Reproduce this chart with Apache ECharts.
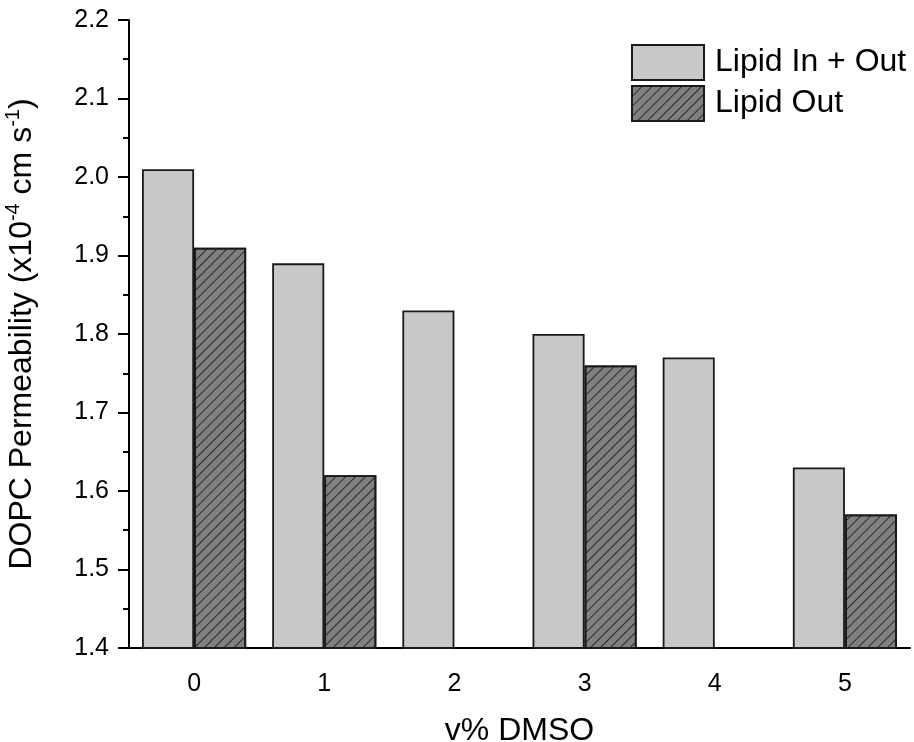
<!DOCTYPE html>
<html>
<head>
<meta charset="utf-8">
<script src="https://cdn.jsdelivr.net/npm/echarts@6/dist/echarts.min.js"></script>
<style>
  html, body { margin: 0; padding: 0; background: #fff; }
  #chart { width: 914px; height: 742px; }
</style>
</head>
<body>
<div id="chart"></div>
<script>
// 数据
const categories = ['0', '1', '2', '3', '4', '5'];
const lipidInOut = [2.01, 1.89, 1.83, 1.80, 1.77, 1.63];
const lipidOut = [1.91, 1.62, '-', 1.76, '-', 1.57];
const yTicks = { min: 1.4, max: 2.2, interval: 0.1 };

const font = 'Liberation Sans, Arial, sans-serif';
const chart = echarts.init(document.getElementById('chart'));

const option = {
  animation: false,
  textStyle: { fontFamily: font, color: '#000' },
  grid: { left: 129, right: 4, top: 20, bottom: 94, containLabel: false, outerBoundsMode: 'none' },
  legend: {
    orient: 'vertical',
    left: 631,
    top: 44,
    padding: 0,
    icon: 'rect',
    itemWidth: 72,
    itemHeight: 35,
    itemGap: 4,
    textStyle: { fontSize: 32, lineHeight: 35, color: '#000', fontFamily: font, padding: [0, 0, 0, 6] },
    data: ['Lipid In + Out', 'Lipid Out'],
  },
  xAxis: [
    {
      type: 'category',
      data: categories,
      name: 'v% DMSO',
      nameLocation: 'middle',
      nameGap: 67,
      nameTextStyle: { fontSize: 32, color: '#000' },
      axisLine: { lineStyle: { color: '#000', width: 2 } },
      axisTick: { alignWithLabel: true, length: 11, lineStyle: { color: '#000', width: 2 } },
      axisLabel: { fontSize: 25, color: '#000', margin: 24 },
    },
    {
      // 分类边界的短刻度
      type: 'category',
      data: categories,
      position: 'bottom',
      axisLine: { show: false },
      axisTick: { length: 6, lineStyle: { color: '#000', width: 2 } },
      axisLabel: { show: false },
    },
  ],
  yAxis: {
    type: 'value',
    min: yTicks.min,
    max: yTicks.max,
    interval: yTicks.interval,
    name: 'DOPC Permeability (x10{sup|-4} cm s{sup|-1})',
    nameLocation: 'middle',
    nameGap: 88,
    nameTextStyle: {
      fontSize: 32,
      color: '#000',
      rich: {
        sup: { fontSize: 20, verticalAlign: 'bottom', padding: [0, 0, 18, 0] },
      },
    },
    axisLine: { show: true, lineStyle: { color: '#000', width: 2 } },
    axisTick: { show: true, length: 11, lineStyle: { color: '#000', width: 2 } },
    minorTick: { show: true, splitNumber: 2, length: 6, lineStyle: { color: '#000', width: 2 } },
    splitLine: { show: false },
    axisLabel: { fontSize: 25, color: '#000', margin: 20, formatter: v => v.toFixed(1) },
  },
  series: [
    {
      name: 'Lipid In + Out',
      type: 'bar',
      data: lipidInOut,
      barGap: '0%',
      barCategoryGap: '20%',
      itemStyle: { color: '#c8c8c8', borderColor: '#1a1a1a', borderWidth: 1.8 },
    },
    {
      name: 'Lipid Out',
      type: 'bar',
      data: lipidOut,
      barGap: '0%',
      barCategoryGap: '20%',
      itemStyle: {
        color: '#808080',
        borderColor: '#1a1a1a',
        borderWidth: 1.8,
        decal: {
          symbol: 'rect',
          symbolSize: 1,
          color: '#2a2a2a',
          dashArrayX: [1, 0],
          dashArrayY: [1, 6],
          rotation: -Math.PI / 4,
        },
      },
    },
  ],
};

chart.setOption(option);
</script>
</body>
</html>
